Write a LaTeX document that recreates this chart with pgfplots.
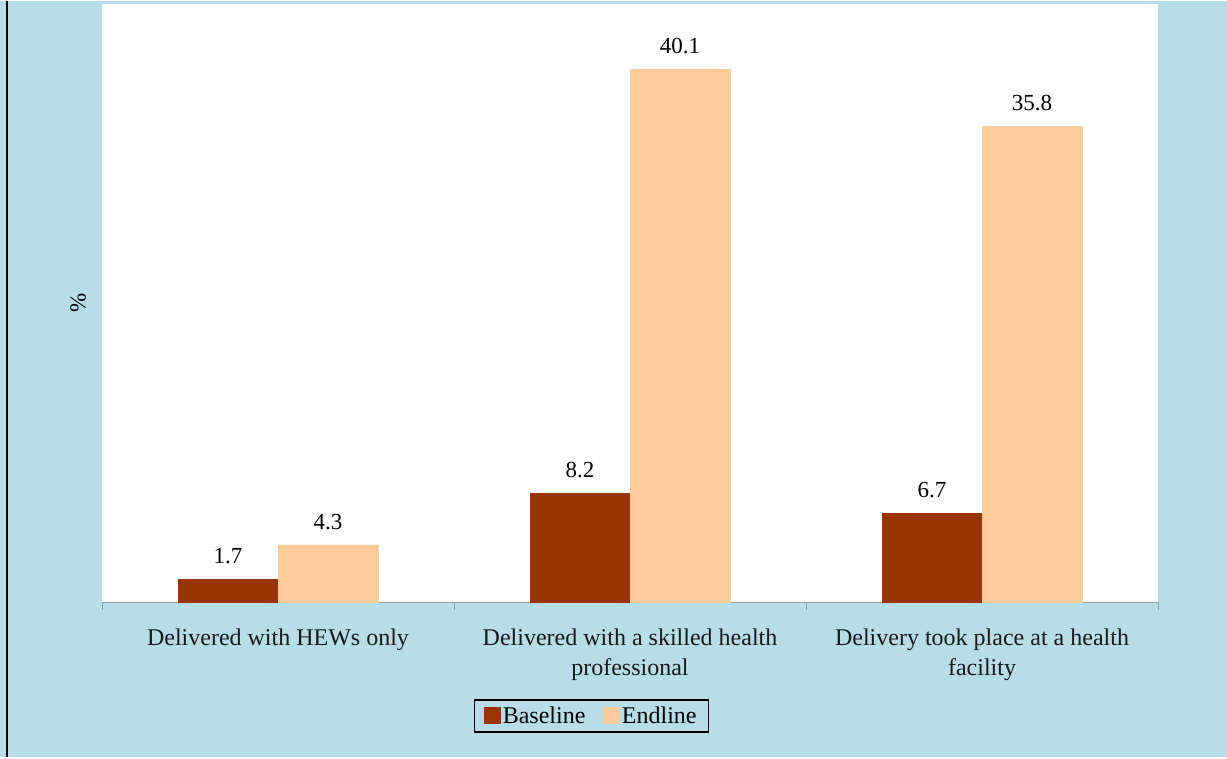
\documentclass[border=0pt]{standalone}
\usepackage{pgfplots}
\pgfplotsset{compat=1.18}
\usepackage{fontspec}
\setmainfont{Liberation Serif}
\definecolor{bgblue}{HTML}{B7DDE8}
\definecolor{base}{HTML}{993300}
\definecolor{endl}{HTML}{FFCC99}
\begin{document}
\begin{tikzpicture}[x=1bp,y=1bp]
\fill[bgblue] (0,0) rectangle (1227,756);
\draw[black,line width=2.2bp] (7,0)--(7,756);
\begin{axis}[
  at={(102bp,155bp)}, anchor=south west,
  scale only axis, width=1056bp, height=598bp,
  axis background/.style={fill=white},
  xmin=-0.5, xmax=2.5, ymin=0, ymax=45,
  ybar=0pt, bar width=100bp,
  axis lines*=left,
  x axis line style={draw=gray!80,line width=0.8bp},
  y axis line style={draw=none},
  ytick=\empty,
  xtick={0,1,2},
  minor xtick={-0.5,0.5,1.5,2.5},
  xtick align=outside,
  major tick length=0pt,
  minor tick length=8bp,
  minor x tick style={draw=gray!80,line width=0.8bp},
  xticklabels={Delivered with HEWs only, Delivered with a skilled health\\professional, Delivery took place at a health\\facility},
  xticklabel style={font=\fontsize{24bp}{30bp}\selectfont, align=center, text=black!90, yshift=-23bp},
  ylabel={\%},
  ylabel style={at={(axis description cs:-0.0227,0.5)}, anchor=center, font=\fontsize{23bp}{25bp}\selectfont},
  nodes near coords={\pgfmathprintnumber[fixed,precision=1,fixed zerofill]{\pgfplotspointmeta}},
  /pgf/number format/assume math mode=true,
  every node near coord/.append style={font=\fontsize{23bp}{25bp}\selectfont, text=black, yshift=12bp},
  legend style={at={(axis description cs:0.4635,-0.1906)}, anchor=center, fill=bgblue, draw=black, line width=1.5bp, legend columns=2, font=\fontsize{24bp}{28bp}\selectfont, inner xsep=10bp, inner ysep=5bp, /tikz/every even column/.append style={column sep=16bp}},
  legend image code/.code={\fill[#1] (0bp,-7bp) rectangle (15bp,8bp);},
  legend cell align=left,
  every legend entry/.style={},
]
\addplot[fill=base, draw=base] coordinates {(0,1.7) (1,8.2) (2,6.7)};
\addplot[fill=endl, draw=endl] coordinates {(0,4.3) (1,40.1) (2,35.8)};
\legend{Baseline, Endline}
\end{axis}
\end{tikzpicture}
\end{document}
